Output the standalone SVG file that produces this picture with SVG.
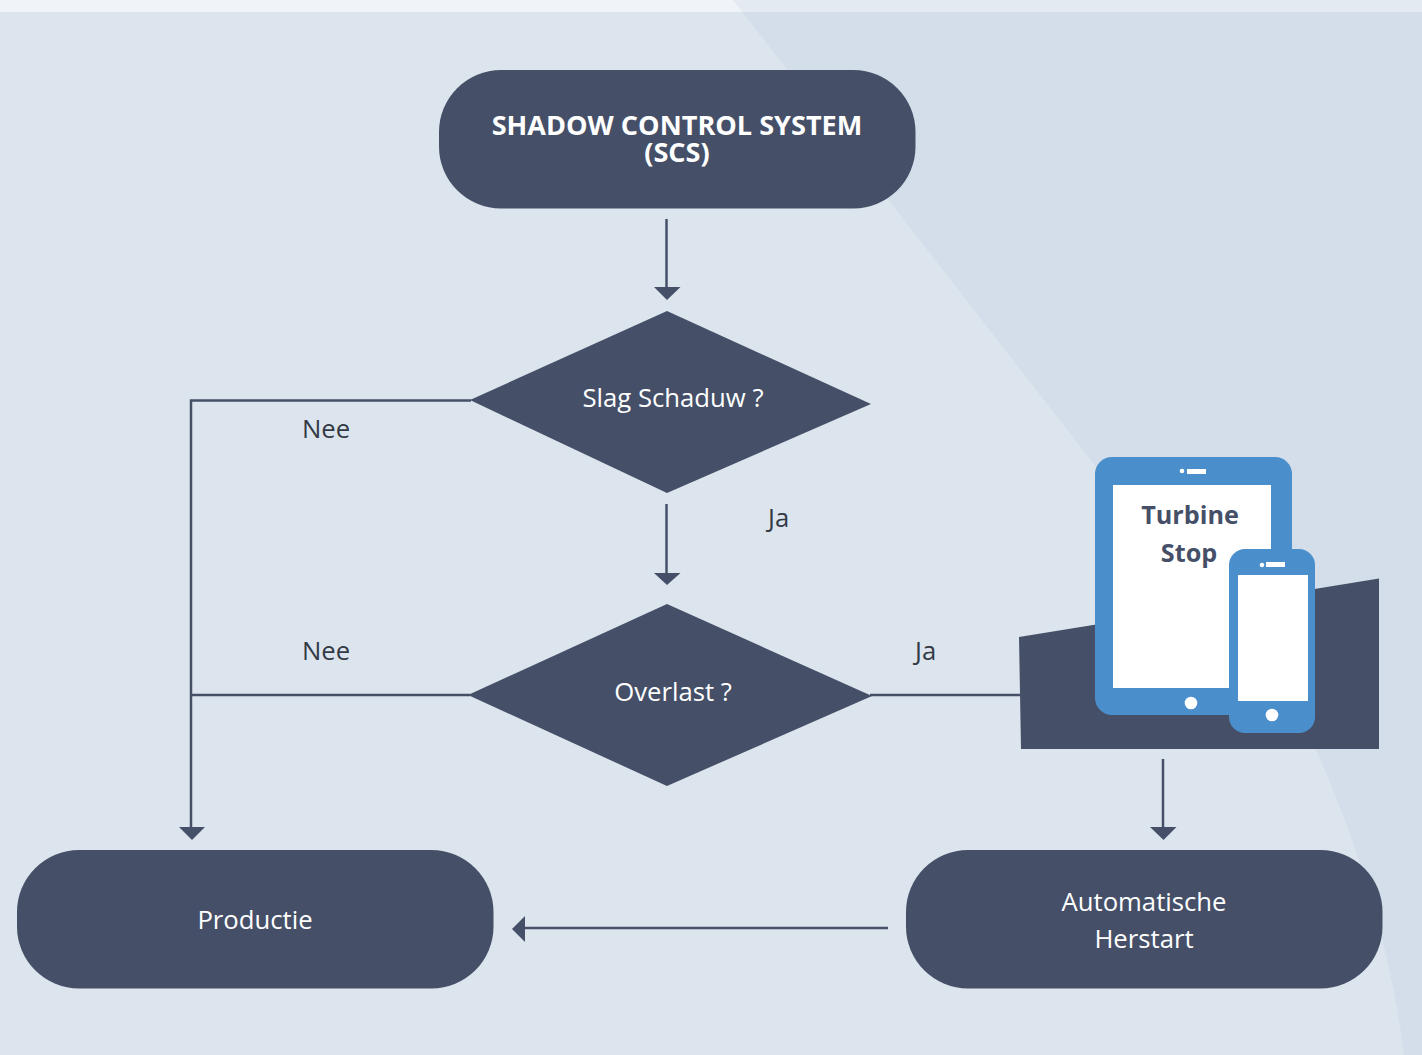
<svg xmlns="http://www.w3.org/2000/svg" width="1422" height="1055" viewBox="0 0 1422 1055">
<style>
.n{fill:#455068}
.w{fill:#fff}
.b{fill:#4b8ecc}
.c{fill:none;stroke:#455068;stroke-width:2.5}
.h{fill:#455068}
text{font-family:"Open Sans","Noto Sans","Liberation Sans",sans-serif}
.l{font-size:25.700px;fill:#fff;text-anchor:middle}
.d{font-size:25.700px;fill:#333a45}
.t{font-size:27.100px;font-weight:700;fill:#fff;text-anchor:middle}
.s{font-size:25.200px;font-weight:700;fill:#455068;text-anchor:middle}
</style>
<g id="background">
<rect width="1422" height="1055" fill="#dce5ee"/>
<path d="M733,0H1422V1055H1404C1392,960 1365,860 1316,750Z" fill="#d4deea"/>
<rect width="1422" height="12" fill="#e3eaf1"/>
<path d="M0,0H733L742,12H0Z" fill="#f0f4f8"/>
</g>
<g id="connectors">
<path class="c" d="M666.500,219V288"/><path class="h" d="M654,287H680.500L667,300Z"/>
<path class="c" d="M666.500,504V574"/><path class="h" d="M654,573H680.500L667,585Z"/>
<path class="c" d="M471,400.500H191V828"/><path class="h" d="M179,827H205L192,840Z"/>
<path class="c" d="M191,695H470"/>
<path class="c" d="M870,695H1021"/>
<path class="c" d="M1163,759V828"/><path class="h" d="M1150,827H1176.500L1163.500,840Z"/>
<path class="c" d="M888,928H524"/><path class="h" d="M525,916V942L512,929Z"/>
</g>
<g id="node-scs">
<rect class="n" x="439" y="70" width="476.500" height="138.500" rx="62"/>
<text class="t" x="677" y="135">SHADOW CONTROL SYSTEM</text>
<text class="t" x="677" y="162">(SCS)</text>
</g>
<g id="node-slag">
<path class="n" d="M667,311L871,404L667,493L470,400Z"/>
<text class="l" x="673" y="407">Slag Schaduw ?</text>
</g>
<g id="node-overlast">
<path class="n" d="M667,604L872,696L667,786L468,695Z"/>
<text class="l" x="673" y="701">Overlast ?</text>
</g>
<g id="node-device">
<path class="n" d="M1019,637L1379,578.500V749H1021Z"/>
<rect class="b" x="1095" y="457" width="197" height="258" rx="17"/>
<rect class="w" x="1113" y="485" width="158" height="203"/>
<circle class="w" cx="1182" cy="471" r="2.300"/>
<rect class="w" x="1187" y="469" width="19" height="5"/>
<circle class="w" cx="1191" cy="703" r="6.300"/>
<text class="s" x="1190" y="524">Turbine</text>
<text class="s" x="1189" y="562">Stop</text>
<rect class="b" x="1229" y="549" width="86" height="184" rx="16"/>
<rect class="w" x="1238" y="575" width="70" height="126"/>
<circle class="w" cx="1262" cy="565" r="2.300"/>
<rect class="w" x="1266" y="562" width="19" height="5"/>
<circle class="w" cx="1272" cy="715" r="6.300"/>
</g>
<g id="node-productie">
<rect class="n" x="17" y="850" width="476.500" height="138.500" rx="62"/>
<text class="l" x="255" y="929">Productie</text>
</g>
<g id="node-herstart">
<rect class="n" x="906" y="850" width="476.500" height="138.500" rx="62"/>
<text class="l" x="1144" y="911">Automatische</text>
<text class="l" x="1144" y="948">Herstart</text>
</g>
<g id="labels">
<text class="d" x="302" y="438">Nee</text>
<text class="d" x="302" y="660">Nee</text>
<text class="d" x="768" y="527">Ja</text>
<text class="d" x="915" y="660">Ja</text>
</g>
</svg>
